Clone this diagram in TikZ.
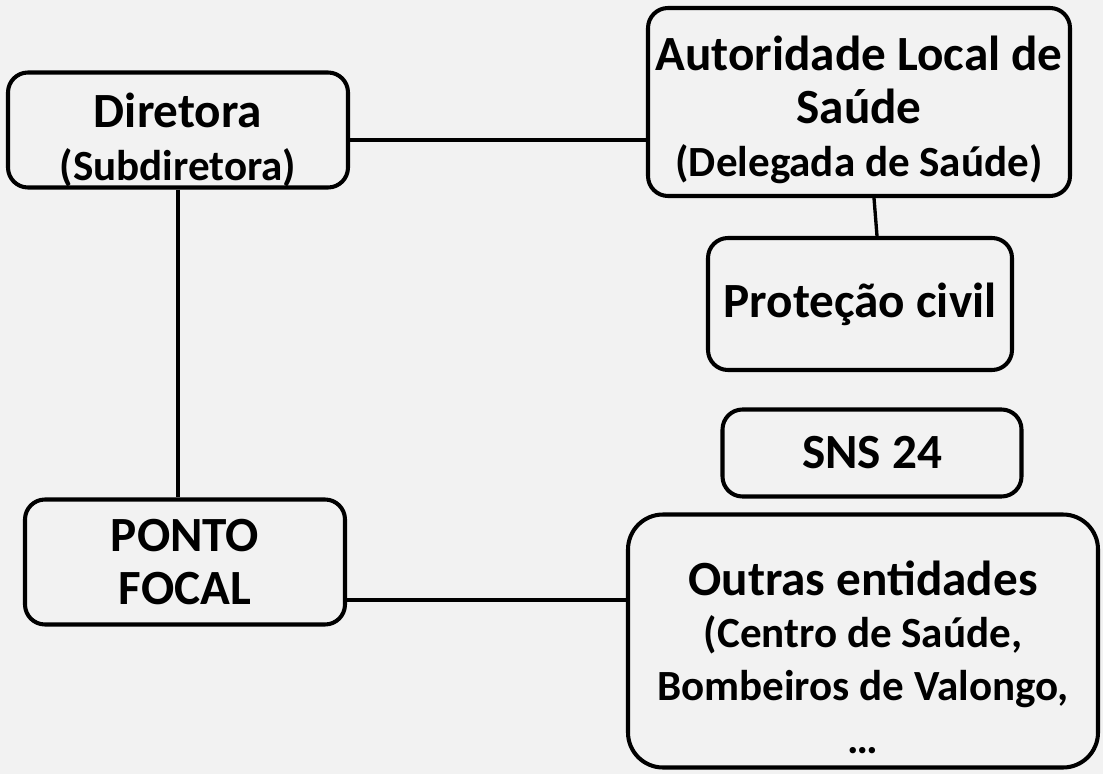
\documentclass[tikz,border=0pt]{standalone}
\usepackage{fontspec}
\setmainfont{Carlito}
\usetikzlibrary{positioning,calc}
\definecolor{PageGray}{RGB}{242,242,242}
\newcommand{\smalltxt}{\fontsize{24.5}{30}\selectfont}
\tikzset{
  unit/.style={draw=black,line width=2.3pt,rounded corners=0.4cm,inner sep=0pt,align=center,
    font=\fontsize{28}{30}\selectfont\bfseries},
  unittxt/.style={align=center,inner sep=0pt,font=\fontsize{28}{30}\selectfont\bfseries},
  link/.style={draw=black,line width=1.9pt},
}

\begin{document}
\begin{tikzpicture}
\fill[PageGray] (0,0) rectangle (22.06,-15.48);
\useasboundingbox (0,0) rectangle (22.06,-15.48);
\node[unit,minimum width=6.8cm,minimum height=2.3cm,
  label={[unittxt,yshift=-2mm]center:{Diretora\\\smalltxt (Subdiretora)}}] (dir) at (3.56,-2.6) {};
\node[unit,minimum width=8.44cm,minimum height=3.76cm,
  label={[unittxt,yshift=-1.6mm]center:{Autoridade Local de\\Saúde\\\smalltxt (Delegada de Saúde)}}] (aut) at (17.18,-2.04) {};
\node[unit,minimum width=6.08cm,minimum height=2.64cm] (prot) at (17.2,-6.08)
  {Proteção civil};
\node[unit,minimum width=5.98cm,minimum height=1.74cm] (sns) at (17.44,-9.06)
  {SNS 24};
\node[unit,minimum width=6.4cm,minimum height=2.5cm] (foco) at (3.7,-11.24)
  {PONTO\\FOCAL};
\node[unit,rounded corners=0.7cm,minimum width=9.4cm,minimum height=5.06cm,
  label={[unittxt,yshift=-3.2mm]center:{Outras entidades\\\smalltxt (Centro de Saúde,\\\smalltxt Bombeiros de Valongo,\\\smalltxt \dots}}] (outr) at (17.26,-12.82) {};
\draw[link] ([yshift=-2mm]dir.east) -- ([yshift=-2mm]dir.east -| aut.west);
\draw[link] (dir.south) -- (dir.south |- foco.north);
\draw[link] ([xshift=3mm]aut.south) -- ([xshift=3.4mm]prot.north);
\draw[link] ([yshift=-7.6mm]foco.east) -- ([yshift=-7.6mm]foco.east -| outr.west);
\end{tikzpicture}
\end{document}
